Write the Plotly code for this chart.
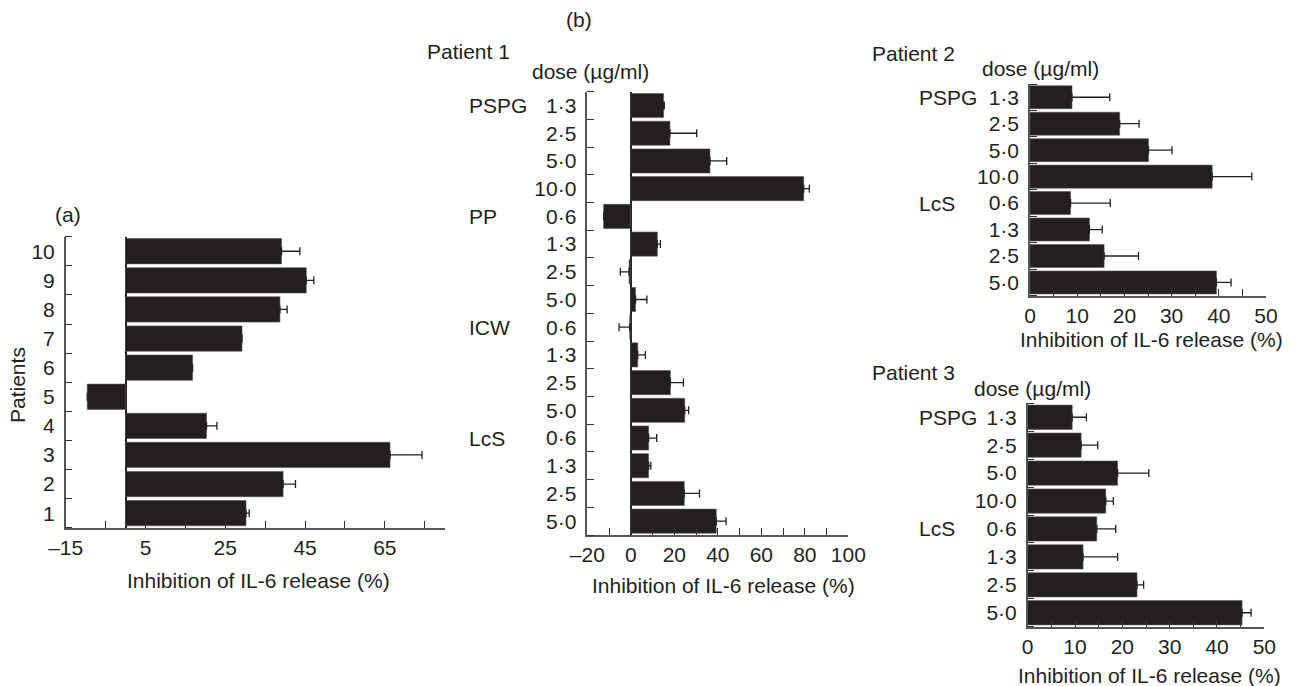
import plotly.graph_objects as go

W, H = 1295, 686
INK = "#231f20"
FONT = "Liberation Sans"
FS = 21

# ---------------- data ----------------
# Panel (a)
patients = [1, 2, 3, 4, 5, 6, 7, 8, 9, 10]
patient_labels = ["1", "2", "3", "4", "5", "6", "7", "8", "9", "10"]
a_values = [30.2, 39.5, 66.3, 20.3, -9.6, 16.8, 29.2, 38.7, 45.3, 39.1]
a_errors = [0.8, 3.1, 8.0, 2.6, 0.0, 0.0, 0.0, 1.8, 1.9, 4.6]
a_xticks = [-15, -5, 5, 15, 25, 35, 45, 55, 65, 75]
a_xticklabels = ["–15", "", "5", "", "25", "", "45", "", "65", ""]

# Panel (b) Patient 1
p1_doses = ["1·3", "2·5", "5·0", "10·0", "0·6", "1·3", "2·5", "5·0",
            "0·6", "1·3", "2·5", "5·0", "0·6", "1·3", "2·5", "5·0"]
p1_groups = ["PSPG"] * 4 + ["PP"] * 4 + ["ICW"] * 4 + ["LcS"] * 4
p1_values = [15.1, 18.0, 36.4, 79.5, -12.5, 12.2, -0.8, 2.2,
             -0.5, 3.2, 18.2, 24.8, 8.2, 8.2, 24.6, 39.3]
p1_errors = [0.3, 12.3, 7.7, 2.6, 0.0, 1.4, 4.0, 5.2,
             4.9, 3.5, 6.0, 1.8, 3.7, 1.0, 7.0, 4.5]
p1_xticks = [-20, -10, 0, 10, 20, 30, 40, 50, 60, 70, 80, 90, 100]
p1_xticklabels = ["–20", "", "0", "", "20", "", "40", "", "60", "", "80", "", "100"]

# Panel (b) Patient 2
p2_doses = ["1·3", "2·5", "5·0", "10·0", "0·6", "1·3", "2·5", "5·0"]
p2_groups = ["PSPG"] * 4 + ["LcS"] * 4
p2_values = [8.9, 19.0, 25.1, 38.6, 8.6, 12.6, 15.7, 39.5]
p2_errors = [8.0, 4.1, 5.0, 8.4, 8.4, 2.7, 7.3, 3.1]

# Panel (b) Patient 3
p3_doses = ["1·3", "2·5", "5·0", "10·0", "0·6", "1·3", "2·5", "5·0"]
p3_groups = ["PSPG"] * 4 + ["LcS"] * 4
p3_values = [9.4, 11.3, 19.0, 16.5, 14.6, 11.7, 23.1, 45.3]
p3_errors = [3.0, 3.5, 6.6, 1.6, 4.0, 7.3, 1.4, 1.9]

p23_xticks = [0, 5, 10, 15, 20, 25, 30, 35, 40, 45, 50]
p23_xticklabels = ["0", "", "10", "", "20", "", "30", "", "40", "", "50"]

x_title = "Inhibition of IL-6 release (%)"
dose_title = "dose (µg/ml)"


def X(px):
    return px / W


def Y(py):
    return 1 - py / H


def bar_trace(values, errors, ypos, xa, ya):
    plus = [e if v >= 0 else 0 for v, e in zip(values, errors)]
    minus = [e if v < 0 else 0 for v, e in zip(values, errors)]
    return go.Bar(
        x=values, y=ypos, orientation="h", xaxis=xa, yaxis=ya,
        marker=dict(color=INK, line=dict(color="#555555", width=0.6)),
        error_x=dict(type="data", symmetric=False, array=plus, arrayminus=minus,
                     color=INK, thickness=1.3, width=4),
        showlegend=False, hoverinfo="x+y",
    )


fig = go.Figure()
rows1 = list(range(len(p1_doses)))
rows2 = list(range(len(p2_doses)))
rows3 = list(range(len(p3_doses)))
fig.add_trace(bar_trace(a_values, a_errors, patients, "x", "y"))
fig.add_trace(bar_trace(p1_values, p1_errors, rows1, "x2", "y2"))
fig.add_trace(bar_trace(p2_values, p2_errors, rows2, "x3", "y3"))
fig.add_trace(bar_trace(p3_values, p3_errors, rows3, "x4", "y4"))

tickfont = dict(family=FONT, size=FS, color=INK)
common_x = dict(ticks="inside", ticklen=7, tickwidth=1.2, tickcolor="#333333",
                showline=True, linecolor="#555555", linewidth=1.5, showgrid=False,
                tickfont=tickfont, tickmode="array", ticklabelstandoff=0,
                automargin=False)
common_y = dict(ticks="", showline=True, linecolor="#555555", linewidth=1.5,
                showgrid=False, zeroline=False, tickfont=tickfont, tickmode="array",
                ticklabelstandoff=5, automargin=False)


def minor_bounds(n, start):
    return dict(tickmode="array", tickvals=[start + i for i in range(n + 1)],
                ticks="inside", ticklen=7, tickwidth=1.2, tickcolor="#333333")


fig.update_layout(
    width=W, height=H, margin=dict(l=0, r=0, t=0, b=0, autoexpand=False),
    paper_bgcolor="white", plot_bgcolor="white", bargap=0.13,
    font=dict(family=FONT, size=FS, color=INK),
    xaxis=dict(domain=[X(65.7), X(444.7)], range=[-15, 80], anchor="y",
               tickvals=a_xticks, ticktext=a_xticklabels,
               zeroline=True, zerolinecolor=INK, zerolinewidth=1.5, **common_x),
    yaxis=dict(domain=[Y(527.7), Y(236.7)], range=[0.5, 10.5], anchor="x",
               tickvals=patients, ticktext=patient_labels,
               minor=minor_bounds(len(patients), 0.5), **common_y),
    xaxis2=dict(domain=[X(587.3), X(848.3)], range=[-20, 100], anchor="y2",
                tickvals=p1_xticks, ticktext=p1_xticklabels,
                zeroline=True, zerolinecolor=INK, zerolinewidth=1.5, **common_x),
    yaxis2=dict(domain=[Y(535), Y(91.7)], range=[len(rows1) - 0.5, -0.5], anchor="x2",
                tickvals=rows1, ticktext=p1_doses,
                minor=minor_bounds(len(rows1), -0.5), **common_y),
    xaxis3=dict(domain=[X(1030), X(1266)], range=[0, 50], anchor="y3",
                tickvals=p23_xticks, ticktext=p23_xticklabels, zeroline=False, **common_x),
    yaxis3=dict(domain=[Y(295.7), Y(84)], range=[len(rows2) - 0.5, -0.5], anchor="x3",
                tickvals=rows2, ticktext=p2_doses,
                minor=minor_bounds(len(rows2), -0.5), **common_y),
    xaxis4=dict(domain=[X(1027.7), X(1264.3)], range=[0, 50], anchor="y4",
                tickvals=p23_xticks, ticktext=p23_xticklabels, zeroline=False, **common_x),
    yaxis4=dict(domain=[Y(626.7), Y(403.3)], range=[len(rows3) - 0.5, -0.5], anchor="x4",
                tickvals=rows3, ticktext=p3_doses,
                minor=minor_bounds(len(rows3), -0.5), **common_y),
)

ann = []


def text(s, x, y, xanchor="left", angle=0, yref="paper"):
    ann.append(dict(text=s, x=x, y=y, xref="paper", yref=yref, xanchor=xanchor,
                    yanchor="middle", showarrow=False, textangle=angle,
                    font=dict(family=FONT, size=FS, color=INK)))


# Panel (a) texts
text("(a)", X(53), Y(215))
text("Patients", X(18), Y(385), xanchor="center", angle=-90)
text(x_title, X(258), Y(580), xanchor="center")

# Panel (b) texts
text("(b)", X(578.7), Y(20), xanchor="center")
text("Patient 1", X(425), Y(51.7))
text(dose_title, X(530), Y(71.7))
text(x_title, X(723), Y(585), xanchor="center")
text("Patient 2", X(870), Y(53.3))
text(dose_title, X(980), Y(68.3))
text(x_title, X(1151), Y(339), xanchor="center")
text("Patient 3", X(870), Y(372.7))
text(dose_title, X(971.7), Y(388.3))
text(x_title, X(1149), Y(675), xanchor="center")


def group_labels(groups, xpx, yref):
    seen = []
    for i, g in enumerate(groups):
        if g not in seen:
            seen.append(g)
            text(g, X(xpx), i, yref=yref)


group_labels(p1_groups, 466.7, "y2")
group_labels(p2_groups, 917, "y3")
group_labels(p3_groups, 917, "y4")

fig.update_layout(annotations=ann)
fig.write_html("out.html")
